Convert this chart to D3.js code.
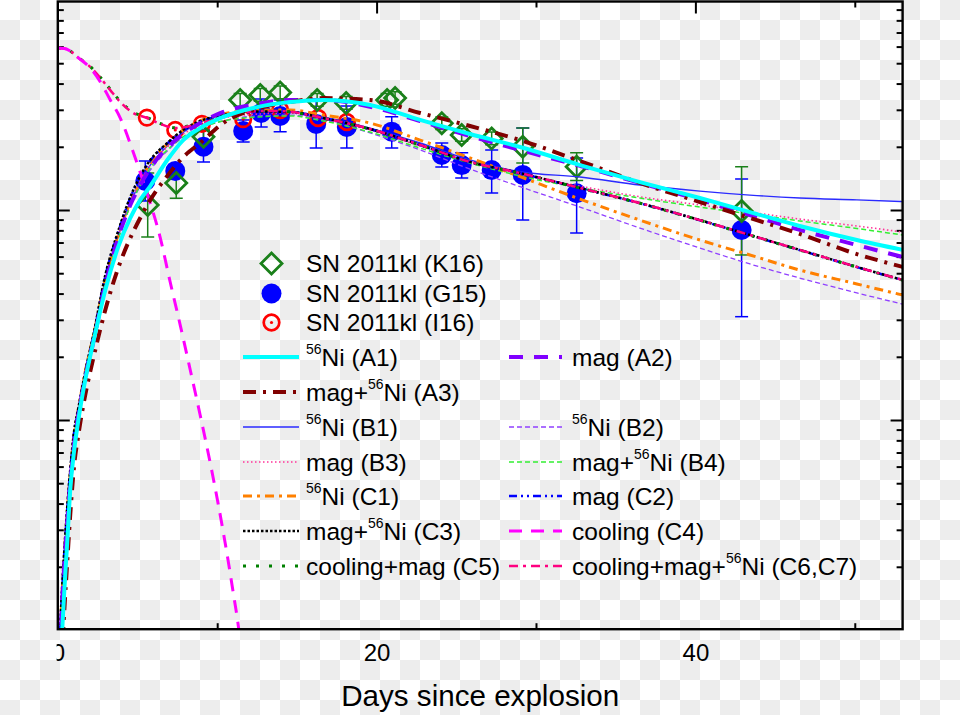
<!DOCTYPE html>
<html><head><meta charset="utf-8">
<script src="https://cdn.jsdelivr.net/npm/d3@7"></script>
<style>
body{margin:0;background:#fff}
svg{display:block}
text{font-family:"Liberation Sans",Arial,Helvetica,sans-serif;fill:#000}
</style>
</head><body>
<svg id="chart" width="960" height="715"></svg>
<script>
// ---------------- DATA (log10 L in erg/s vs days since explosion) ----------------
const dayGrid = [0.15, 0.28, 0.41, 0.6, 0.78, 1.03, 1.29, 1.72, 2.23, 2.98, 3.79, 4.55, 5.17, 5.8, 6.87, 7.87, 8.93, 10.38, 12.51, 14.58, 16.65, 19.59, 22.73, 25.86, 29.0, 32.76, 36.52, 40.28, 43.42, 46.55, 50.13, 53.0];
const A1 = [40.85, 41.005, 41.19, 41.429, 41.667, 41.857, 42.0, 42.19, 42.371, 42.619, 42.824, 42.962, 43.048, 43.114, 43.238, 43.333, 43.39, 43.443, 43.49, 43.514, 43.524, 43.5, 43.429, 43.362, 43.3, 43.214, 43.133, 43.057, 42.99, 42.924, 42.857, 42.81];
const A2 = [40.905, 41.143, 41.31, 41.524, 41.7, 41.89, 42.024, 42.2, 42.371, 42.643, 42.867, 43.024, 43.119, 43.2, 43.295, 43.362, 43.414, 43.467, 43.505, 43.524, 43.524, 43.492, 43.424, 43.352, 43.286, 43.21, 43.129, 43.048, 42.976, 42.905, 42.833, 42.776];
const A3 = [40.667, 40.905, 41.095, 41.333, 41.548, 41.786, 41.929, 42.119, 42.295, 42.524, 42.724, 42.867, 42.962, 43.048, 43.162, 43.252, 43.319, 43.414, 43.483, 43.514, 43.533, 43.524, 43.462, 43.4, 43.333, 43.233, 43.129, 43.038, 42.962, 42.886, 42.79, 42.729];
const B1 = [40.952, 41.167, 41.333, 41.548, 41.724, 41.919, 42.038, 42.214, 42.39, 42.667, 42.876, 43.033, 43.133, 43.214, 43.305, 43.371, 43.419, 43.452, 43.471, 43.471, 43.443, 43.39, 43.319, 43.238, 43.182, 43.157, 43.119, 43.09, 43.071, 43.057, 43.048, 43.04];
const B2 = [40.952, 41.157, 41.324, 41.538, 41.714, 41.905, 42.029, 42.205, 42.381, 42.652, 42.862, 43.019, 43.114, 43.19, 43.281, 43.348, 43.39, 43.424, 43.448, 43.452, 43.429, 43.367, 43.286, 43.195, 43.111, 43.014, 42.914, 42.819, 42.743, 42.676, 42.605, 42.552];
const B3 = [40.976, 41.181, 41.348, 41.562, 41.738, 41.929, 42.048, 42.224, 42.395, 42.667, 42.876, 43.033, 43.133, 43.214, 43.3, 43.362, 43.405, 43.438, 43.457, 43.462, 43.433, 43.381, 43.305, 43.233, 43.171, 43.114, 43.063, 43.024, 42.99, 42.957, 42.924, 42.895];
const B4 = [40.952, 41.167, 41.333, 41.548, 41.724, 41.914, 42.033, 42.21, 42.381, 42.652, 42.862, 43.019, 43.119, 43.2, 43.286, 43.348, 43.39, 43.424, 43.443, 43.448, 43.424, 43.371, 43.295, 43.224, 43.162, 43.105, 43.057, 43.014, 42.981, 42.948, 42.912, 42.881];
const C1 = [40.976, 41.19, 41.357, 41.571, 41.743, 41.933, 42.052, 42.229, 42.4, 42.671, 42.881, 43.038, 43.138, 43.224, 43.314, 43.381, 43.424, 43.457, 43.476, 43.476, 43.452, 43.414, 43.333, 43.248, 43.159, 43.052, 42.952, 42.857, 42.786, 42.714, 42.648, 42.595];
const C2 = [41.0, 41.2, 41.37, 41.585, 41.755, 41.945, 42.05, 42.225, 42.4, 42.685, 42.895, 43.058, 43.158, 43.234, 43.316, 43.378, 43.421, 43.45, 43.467, 43.465, 43.437, 43.385, 43.309, 43.228, 43.175, 43.104, 43.032, 42.951, 42.88, 42.809, 42.728, 42.666];
const C3 = [41.024, 41.214, 41.381, 41.595, 41.762, 41.952, 42.057, 42.229, 42.405, 42.69, 42.9, 43.062, 43.162, 43.238, 43.319, 43.381, 43.424, 43.452, 43.469, 43.467, 43.438, 43.386, 43.31, 43.229, 43.176, 43.105, 43.033, 42.952, 42.881, 42.81, 42.729, 42.667];
const coolDays = [0, 0.41, 0.78, 1.22, 2.04, 2.67, 3.29, 3.92, 4.73, 5.49, 6.43, 7.05, 7.68, 8.31, 8.93, 9.75, 10.38, 11.0, 11.35, 11.57];
const C4 = [43.771, 43.769, 43.757, 43.729, 43.676, 43.61, 43.524, 43.438, 43.276, 43.105, 42.867, 42.657, 42.452, 42.238, 42.024, 41.724, 41.467, 41.181, 41.005, 40.857];
const hybDays = [0, 0.41, 0.78, 1.22, 2.04, 2.67, 3.29, 3.92, 4.73, 5.61, 6.43, 7.37, 8.31, 9.06, 10.19, 11.44, 12.7, 13.95, 16.65, 19.59, 22.73, 25.86, 29.0, 32.76, 36.52, 40.28, 43.42, 46.55, 50.13, 53.0];
const C5 = [43.771, 43.769, 43.757, 43.73, 43.683, 43.632, 43.575, 43.518, 43.466, 43.44, 43.412, 43.392, 43.402, 43.416, 43.44, 43.463, 43.472, 43.471, 43.437, 43.385, 43.309, 43.228, 43.175, 43.104, 43.032, 42.951, 42.88, 42.809, 42.728, 42.666];
const C6 = [43.771, 43.769, 43.757, 43.729, 43.681, 43.629, 43.571, 43.514, 43.462, 43.438, 43.41, 43.39, 43.4, 43.414, 43.438, 43.462, 43.471, 43.471, 43.438, 43.386, 43.31, 43.229, 43.176, 43.105, 43.033, 42.952, 42.881, 42.81, 42.729, 42.667];

const k16Days = [5.64, 7.43, 9.14, 11.44, 12.70, 13.95, 16.27, 18.09, 20.66, 21.16, 24.09, 25.34, 27.22, 29.17, 32.55, 42.90];
const k16Log  = [43.024, 43.129, 43.349, 43.524, 43.548, 43.56, 43.524, 43.51, 43.524, 43.533, 43.413, 43.357, 43.341, 43.301, 43.206, 42.995];
const k16Hi   = [43.176, 43.202, 43.38, 43.555, 43.578, 43.59, 43.555, 43.54, 43.555, 43.563, 43.443, 43.387, 43.371, 43.39, 43.273, 43.206];
const k16Lo   = [42.871, 43.056, 43.32, 43.494, 43.518, 43.53, 43.494, 43.48, 43.494, 43.503, 43.383, 43.327, 43.311, 43.224, 43.14, 42.786];
const g15Days = [5.49, 7.37, 9.14, 11.63, 12.76, 13.95, 16.21, 18.13, 20.95, 24.09, 25.34, 27.22, 29.17, 32.55, 42.90];
const g15Log  = [43.138, 43.186, 43.301, 43.376, 43.462, 43.448, 43.41, 43.395, 43.373, 43.262, 43.214, 43.19, 43.167, 43.08, 42.905];
const g15Hi   = [43.233, 43.21, 43.381, 43.429, 43.529, 43.524, 43.524, 43.495, 43.444, 43.319, 43.273, 43.286, 43.39, 43.248, 43.148];
const g15Lo   = [43.043, 43.162, 43.229, 43.324, 43.395, 43.373, 43.295, 43.295, 43.295, 43.205, 43.152, 43.081, 42.952, 42.89, 42.492];
const i16Days = [5.59, 7.37, 9.04, 11.63, 13.95, 16.33, 18.13];
const i16Log  = [43.44, 43.381, 43.41, 43.433, 43.476, 43.438, 43.419];

const xMajorTicks = [0, 20, 40];
const xMinorTicks = [10, 30, 50];
const yMajorTicks = [1e42, 1e43];
const yDecades = [1e41, 1e42, 1e43];
const yMinorMult = [2, 3, 4, 5, 6, 7, 8, 9];
const xTitle = "Days since explosion";

const obsNames = ["SN 2011kl (K16)", "SN 2011kl (G15)", "SN 2011kl (I16)"];
const modelKeys = ["A1","A2","A3","B1","B2","B3","B4","C1","C2","C3","C4","C5","C6"];
const modelLabels = ["^56Ni (A1)","mag (A2)","mag+^56Ni (A3)","^56Ni (B1)","^56Ni (B2)","mag (B3)","mag+^56Ni (B4)","^56Ni (C1)","mag (C2)","mag+^56Ni (C3)","cooling (C4)","cooling+mag (C5)","cooling+mag+^56Ni (C6,C7)"];

// ---------------- STYLE / LAYOUT ----------------
const styles = {
  A1:{c:"#00ffff",w:4,d:null},
  A2:{c:"#8000ff",w:4,d:"14,11"},
  A3:{c:"#800000",w:4,d:"13,7,3,7"},
  B1:{c:"#2a2aff",w:1.4,d:null},
  B2:{c:"#9040ff",w:1.3,d:"5,3"},
  B3:{c:"#ff3399",w:1.6,d:"1.5,2.5"},
  B4:{c:"#33ee33",w:1.5,d:"5,3"},
  C1:{c:"#ff8000",w:3,d:"9,5,3,5"},
  C2:{c:"#0000ff",w:2.5,d:"8,4,2,4,2,4"},
  C3:{c:"#000000",w:2.5,d:"2.5,2"},
  C4:{c:"#ff00ff",w:3,d:"13,9"},
  C5:{c:"#008000",w:3,d:"3,10"},
  C6:{c:"#ff0080",w:2.5,d:"9,5,3,5"}
};
const legendPos = {A1:[0,0],A2:[1,0],A3:[0,1],B1:[0,2],B2:[1,2],B3:[0,3],B4:[1,3],C1:[0,4],C2:[1,4],C3:[0,5],C4:[1,5],C5:[0,6],C6:[1,6]};
const drawOrder = ["B1","B2","B3","B4","C1","C2","C3","C5","C6","C4","A2","A3","A1"];

const series = {A1,A2,A3,B1,B2,B3,B4,C1,C2,C3,C4,C5,C6};
const seriesDays = k => k==="C4" ? coolDays : (k==="C5"||k==="C6") ? hybDays : dayGrid;

const svg = d3.select("#chart");
const L=57.8, R=902.6, T=1.5, B=629.2;
const x = d3.scaleLinear().domain([0,53]).range([L,R]);
const y = d3.scaleLog().domain([1e41,1e44]).range([630,0]);
const Y = v => y(Math.pow(10,v));

// checkerboard background
const defs = svg.append("defs");
const pat = defs.append("pattern").attr("id","chk").attr("width",40).attr("height",40).attr("patternUnits","userSpaceOnUse");
pat.append("rect").attr("width",40).attr("height",40).attr("fill","#ffffff");
pat.append("rect").attr("x",20).attr("y",0).attr("width",20).attr("height",20).attr("fill","#ededed");
pat.append("rect").attr("x",0).attr("y",20).attr("width",20).attr("height",20).attr("fill","#ededed");
svg.append("rect").attr("width",960).attr("height",715).attr("fill","url(#chk)");

defs.append("clipPath").attr("id","plotclip").append("rect").attr("x",L).attr("y",T).attr("width",R-L).attr("height",B-T);
defs.append("clipPath").attr("id","lblclip").append("rect").attr("x",56.6).attr("y",0).attr("width",960).attr("height",715);

// ---------------- AXES ----------------
function styleAxis(g){
  g.select(".domain").remove();
  g.selectAll(".tick line").attr("stroke","#000").attr("stroke-width",2);
  g.attr("font-family",'"Liberation Sans",Arial,sans-serif');
}
svg.append("g").attr("transform",`translate(0,${B})`).attr("clip-path","url(#lblclip)")
  .call(d3.axisBottom(x).tickValues(xMajorTicks).tickSize(-12).tickPadding(15).tickFormat(d3.format("d")))
  .call(styleAxis).attr("font-size",24);
svg.append("g").attr("transform",`translate(0,${B})`)
  .call(d3.axisBottom(x).tickValues(xMinorTicks).tickSize(-6).tickFormat("")).call(styleAxis);
svg.append("g").attr("transform",`translate(0,${T})`)
  .call(d3.axisTop(x).tickValues(xMajorTicks.filter(d=>d>0)).tickSize(-12).tickFormat("")).call(styleAxis);
svg.append("g").attr("transform",`translate(0,${T})`)
  .call(d3.axisTop(x).tickValues(xMinorTicks).tickSize(-6).tickFormat("")).call(styleAxis);

const yMinorTicks = [];
yDecades.forEach(dec => yMinorMult.forEach(m => yMinorTicks.push(dec*m)));
svg.append("g").attr("transform",`translate(${L},0)`)
  .call(d3.axisLeft(y).tickValues(yMajorTicks).tickSize(-12).tickFormat("")).call(styleAxis);
svg.append("g").attr("transform",`translate(${L},0)`)
  .call(d3.axisLeft(y).tickValues(yMinorTicks).tickSize(-6).tickFormat("")).call(styleAxis);
svg.append("g").attr("transform",`translate(${R},0)`)
  .call(d3.axisRight(y).tickValues(yMajorTicks).tickSize(-12).tickFormat("")).call(styleAxis);
svg.append("g").attr("transform",`translate(${R},0)`)
  .call(d3.axisRight(y).tickValues(yMinorTicks).tickSize(-6).tickFormat("")).call(styleAxis);

svg.append("text").attr("x",(L+R)/2).attr("y",706).attr("text-anchor","middle").attr("font-size",29.6).text(xTitle);

// ---------------- DATA POINTS ----------------
const plot = svg.append("g").attr("clip-path","url(#plotclip)");
const diamond = "M0,-10.5L10.5,0L0,10.5L-10.5,0Z";

function errorBars(days, lo, hi, color){
  const g = plot.append("g").attr("stroke",color).attr("stroke-width",1.5).attr("fill","none");
  const idx = d3.range(days.length);
  g.selectAll("line.v").data(idx).join("line").attr("class","v")
    .attr("x1",i=>x(days[i])).attr("x2",i=>x(days[i])).attr("y1",i=>Y(lo[i])).attr("y2",i=>Y(hi[i]));
  g.selectAll("line.t").data(idx).join("line").attr("class","t")
    .attr("x1",i=>x(days[i])-6.5).attr("x2",i=>x(days[i])+6.5).attr("y1",i=>Y(hi[i])).attr("y2",i=>Y(hi[i]));
  g.selectAll("line.b").data(idx).join("line").attr("class","b")
    .attr("x1",i=>x(days[i])-6.5).attr("x2",i=>x(days[i])+6.5).attr("y1",i=>Y(lo[i])).attr("y2",i=>Y(lo[i]));
}
errorBars(g15Days, g15Lo, g15Hi, "#0000ff");
errorBars(k16Days, k16Lo, k16Hi, "#1a801a");

plot.append("g").selectAll("circle").data(d3.range(g15Days.length)).join("circle")
  .attr("cx",i=>x(g15Days[i])).attr("cy",i=>Y(g15Log[i])).attr("r",10).attr("fill","#0000ff");
const rg = plot.append("g").selectAll("g").data(d3.range(i16Days.length)).join("g")
  .attr("transform",i=>`translate(${x(i16Days[i])},${Y(i16Log[i])})`);
rg.append("circle").attr("r",7.8).attr("fill","none").attr("stroke","#ff0000").attr("stroke-width",2.7);
rg.append("circle").attr("r",1.6).attr("fill","#ff0000");
plot.append("g").selectAll("path").data(d3.range(k16Days.length)).join("path")
  .attr("transform",i=>`translate(${x(k16Days[i])},${Y(k16Log[i])})`)
  .attr("d",diamond).attr("fill","none").attr("stroke","#1a801a").attr("stroke-width",2.8);

// ---------------- MODEL CURVES ----------------
const line = d3.line().x(d=>x(d[0])).y(d=>Y(d[1])).curve(d3.curveMonotoneX);
drawOrder.forEach(k => {
  const days = seriesDays(k), vals = series[k], s = styles[k];
  plot.append("path").datum(days.map((d,i)=>[d,vals[i]]))
    .attr("d",line).attr("fill","none").attr("stroke",s.c).attr("stroke-width",s.w)
    .attr("stroke-dasharray",s.d);
});

// ---------------- LEGEND ----------------
const leg = svg.append("g");
const symRowsY = [263.5, 293.5, 322.5];
const symX = 271.5, symTextX = 306;
const sym = leg.selectAll("g.sym").data(obsNames).join("g").attr("class","sym")
  .attr("transform",(d,i)=>`translate(${symX},${symRowsY[i]})`);
sym.each(function(d,i){
  const g = d3.select(this);
  if(i===0) g.append("path").attr("d",diamond).attr("fill","none").attr("stroke","#1a801a").attr("stroke-width",2.8);
  if(i===1) g.append("circle").attr("r",10).attr("fill","#0000ff");
  if(i===2){ g.append("circle").attr("r",7.8).attr("fill","none").attr("stroke","#ff0000").attr("stroke-width",2.7);
             g.append("circle").attr("r",1.6).attr("fill","#ff0000"); }
});
sym.append("text").attr("x",symTextX-symX).attr("y",8.5).attr("font-size",24.5).text(d=>d);

const rowY = [357, 392, 427, 462, 496, 531, 566];
const colLine = [[243,299],[509,562]];
const colText = [306, 572];
modelKeys.forEach((k,i) => {
  const [c,r] = legendPos[k], s = styles[k];
  leg.append("line").attr("x1",colLine[c][0]).attr("x2",colLine[c][1]).attr("y1",rowY[r]).attr("y2",rowY[r])
    .attr("stroke",s.c).attr("stroke-width",s.w).attr("stroke-dasharray",s.d);
  const t = leg.append("text").attr("x",colText[c]).attr("y",rowY[r]+8.5).attr("font-size",24.5);
  const parts = modelLabels[i].split("^56");
  t.append("tspan").text(parts[0]);
  if(parts.length>1){
    t.append("tspan").attr("font-size",14).attr("dy",-12).text("56");
    t.append("tspan").attr("dy",12).text(parts[1]);
  }
});

// frame
svg.append("rect").attr("x",L).attr("y",T).attr("width",R-L).attr("height",B-T)
  .attr("fill","none").attr("stroke","#000").attr("stroke-width",2.4);
</script>
</body></html>
